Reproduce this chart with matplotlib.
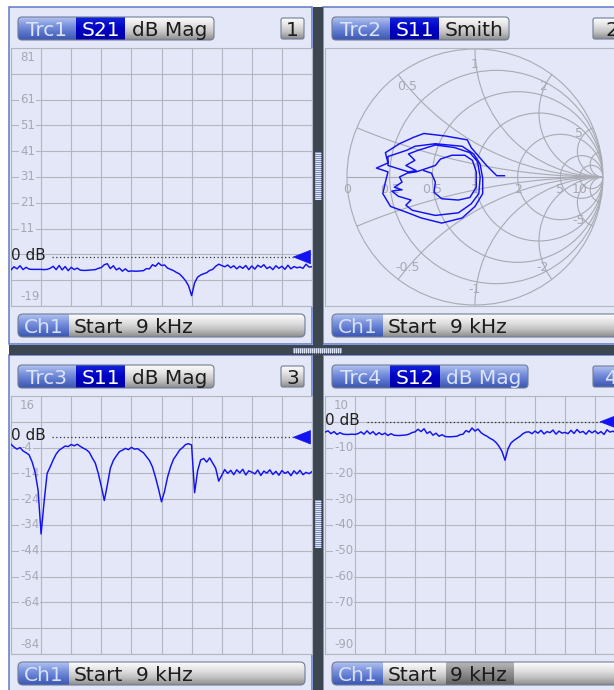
import numpy as np
import matplotlib.pyplot as plt
from matplotlib.colors import to_rgb
from matplotlib.patches import FancyBboxPatch, Rectangle, Circle, Polygon

plt.rcParams['font.family'] = ['DejaVu Sans']

# ---------------- data ----------------
# sweep position in grid divisions (Start 9 kHz ... Stop), 101 points
sweep = np.arange(101) / 10

s21_db = [-5.0, -3.8, -4.6, -3.4, -4.9, -4.0, -4.7, -4.8, -4.8, -4.8,
          -4.8, -4.9, -4.8, -4.4, -3.6, -4.9, -3.3, -5.0, -3.7, -5.3,
          -4.0, -4.9, -4.3, -5.1, -5.2, -5.2, -5.1, -5.0, -4.9, -4.4,
          -4.1, -3.0, -2.6, -4.5, -3.4, -5.0, -4.3, -5.5, -4.6, -5.6,
          -5.4, -5.5, -5.5, -5.4, -5.3, -4.5, -4.6, -3.0, -3.6, -2.3,
          -3.3, -3.1, -4.3, -4.8, -5.3, -6.0, -6.6, -7.8, -9.2, -11.2,
          -15.0, -10.0, -7.8, -7.0, -6.5, -6.1, -5.2, -4.8, -3.6, -2.8,
          -3.3, -3.8, -3.1, -4.2, -3.4, -4.6, -3.6, -4.4, -3.3, -4.9,
          -3.5, -4.7, -3.2, -4.0, -3.0, -4.5, -3.8, -4.9, -3.4, -4.4,
          -3.6, -4.8, -3.2, -4.6, -3.7, -4.2, -3.9, -4.4, -2.8, -3.9, -3.8]

s11_db = [-2.7, -3.8, -4.6, -4.0, -5.3, -6.0, -6.8, -9.5, -13.5, -20.5,
          -37.5, -25.0, -14.0, -11.5, -8.8, -6.5, -5.0, -4.2, -3.4, -3.6,
          -2.8, -3.3, -2.7, -3.5, -4.2, -4.8, -5.8, -8.0, -10.0, -14.0,
          -19.0, -24.5, -18.5, -12.0, -9.0, -7.2, -5.6, -5.0, -4.3, -4.8,
          -3.9, -4.6, -4.4, -5.2, -6.0, -7.5, -9.0, -11.5, -15.5, -20.0,
          -25.0, -21.0, -15.5, -11.5, -8.5, -6.8, -5.0, -4.0, -2.8, -2.5,
          -3.0, -21.5, -13.0, -8.8, -8.2, -9.6, -8.0, -10.0, -12.0, -17.0,
          -14.8, -12.5, -14.0, -12.8, -14.5, -12.6, -13.8, -12.4, -14.6, -13.0,
          -13.5, -14.2, -12.7, -14.8, -13.1, -13.9, -12.6, -14.4, -13.2, -14.7,
          -12.9, -14.0, -13.3, -14.9, -13.0, -14.2, -12.8, -14.5, -13.6, -14.1, -13.3]

s12_db = [-4.0, -3.5, -4.6, -3.8, -4.9, -4.2, -4.8, -4.9, -4.9, -4.8,
          -4.9, -4.6, -3.9, -4.8, -3.5, -4.7, -3.8, -5.1, -4.2, -5.0,
          -4.4, -5.3, -4.6, -5.2, -5.3, -5.3, -5.2, -5.1, -4.8, -4.2,
          -3.9, -2.9, -3.8, -2.7, -4.5, -3.8, -5.2, -4.4, -5.6, -5.0,
          -5.7, -5.8, -5.8, -5.7, -5.6, -5.0, -4.8, -3.4, -4.0, -2.4,
          -3.6, -2.8, -4.2, -5.0, -5.6, -6.4, -7.0, -8.0, -9.5, -11.5,
          -14.9, -10.5, -8.2, -7.2, -6.4, -5.6, -4.6, -4.0, -3.9, -4.6,
          -3.6, -4.4, -3.3, -4.7, -3.8, -4.2, -3.2, -4.8, -3.6, -4.4,
          -4.1, -4.6, -3.3, -4.5, -3.0, -4.2, -3.7, -4.8, -3.4, -4.3,
          -3.5, -4.6, -3.8, -4.9, -3.1, -4.0, -3.6, -4.5, -3.4, -4.1, -3.7]

# S11 reflection coefficient (Smith chart), real / imaginary part
s11_re = [0.23, 0.17, 0.09, 0.03, -0.03, -0.06, -0.23, -0.40, -0.48, -0.59,
          -0.70, -0.68, -0.77, -0.68, -0.70, -0.72, -0.66, -0.55, -0.42, -0.26,
          -0.10, 0.00, 0.06, 0.06, 0.04, -0.01, -0.10, -0.31, -0.47, -0.53,
          -0.68, -0.68, -0.52, -0.46, -0.54, -0.47, -0.52, -0.44, -0.31, -0.16,
          -0.04, 0.02, 0.04, 0.03, -0.03, -0.13, -0.31, -0.49, -0.54, -0.50,
          -0.60, -0.65, -0.57, -0.63, -0.57, -0.59, -0.53, -0.46, -0.40, -0.31,
          -0.27, -0.18, -0.08, -0.02, 0.01, 0.01, -0.04, -0.13, -0.26, -0.32,
          -0.31, -0.34, -0.40]
s11_im = [0.01, 0.01, 0.09, 0.16, 0.23, 0.29, 0.32, 0.34, 0.31, 0.26,
          0.19, 0.11, 0.07, 0.04, -0.04, -0.13, -0.23, -0.27, -0.32, -0.36,
          -0.32, -0.23, -0.13, -0.01, 0.10, 0.18, 0.24, 0.26, 0.24, 0.21,
          0.16, 0.09, 0.04, 0.05, 0.09, 0.13, 0.18, 0.21, 0.25, 0.23,
          0.19, 0.12, 0.00, -0.13, -0.21, -0.28, -0.30, -0.26, -0.22, -0.18,
          -0.15, -0.11, -0.10, -0.08, -0.04, 0.00, 0.03, 0.04, 0.06, 0.09,
          0.14, 0.17, 0.17, 0.13, 0.04, -0.08, -0.16, -0.18, -0.17, -0.12,
          -0.04, 0.03, 0.05]

r_circles = [0.2, 0.5, 1, 2, 5, 10]
x_arcs = [0.2, 0.5, 1, 2, 5, 10]
r_labels = [0, 0.2, 0.5, 1, 2, 5, 10]
x_labels = [0.5, 1, 2, 5]

trc1_labels = [81, 61, 51, 41, 31, 21, 11, -19]
trc3_labels = [16, -4, -14, -24, -34, -44, -54, -64, -84]
trc4_labels = [10, -10, -20, -30, -40, -50, -60, -70, -90]

# ---------------- style ----------------
W, H = 614, 690
PANEL = '#E3E7F7'
BORDER = '#6079C6'
DARK = '#3B4651'
GRID = '#B3B5C0'
SGRID = '#A9AAB2'
LABEL = '#A6A8B4'
BLUE = '#1212F2'
GRAY = ['#FCFCFC', '#E4E4E4', '#C2C2C2', '#8C8C8C']
LBLUE = ['#B2C2F0', '#8098DF', '#5A74CC', '#3C57B0']
NAVY = ['#1424DA', '#0000C4', '#0000A6']
DGRAY = ['#B8B8B8', '#9A9A9A', '#7E7E7E', '#5E5E5E']

fig = plt.figure(figsize=(W / 100, H / 100), dpi=100)
fig.patch.set_facecolor('white')

bg = fig.add_axes([0, 0, 1, 1])
bg.axis('off')


def frac(x0, y0, x1, y1):
    return [x0 / W, 1 - y1 / H, (x1 - x0) / W, (y1 - y0) / H]


def shade(x0, y0, x1, y1, stops, clip=None, z=3):
    cols = np.array([to_rgb(c) for c in stops])
    pos = np.linspace(0, 1, len(cols))
    t = np.linspace(0, 1, 40)
    img = np.stack([np.interp(t, pos, cols[:, k]) for k in range(3)], axis=-1)[:, None, :]
    im = bg.imshow(img, extent=(x0, x1, y1, y0), aspect='auto',
                   interpolation='bilinear', zorder=z)
    if clip is not None:
        im.set_clip_path(clip)
    return im


def pill(x0, y0, x1, y1, r=4, z=3):
    p = FancyBboxPatch((x0, y0), x1 - x0, y1 - y0,
                       boxstyle=f'round,pad=0,rounding_size={r}',
                       fc='none', ec='#707C96', lw=0.8, zorder=z + 1)
    bg.add_patch(p)
    return p


def label(x, y, s, color, size=14.5):
    bg.text(x, y, s, fontsize=size, color=color, ha='center', va='baseline', zorder=6)


def header(x0, y0, y1, segs):
    p = pill(x0, y0, segs[-1][1], y1)
    left = x0
    for s, right, stops, tc in segs:
        shade(left, y0, right, y1, stops, clip=p)
        label((left + right) / 2, (y0 + y1) / 2 + 7.3, s, tc)
        left = right


def numbox(x0, y0, x1, y1, s, stops, tc):
    p = pill(x0, y0, x1, y1, r=2)
    shade(x0, y0, x1, y1, stops, clip=p)
    label((x0 + x1) / 2, (y0 + y1) / 2 + 7.3, s, tc)


def footer(x0, y0, x1, y1, xs, dark_khz=False):
    p = pill(x0, y0, x1, y1, r=5)
    shade(x0, y0, x1, y1, GRAY, clip=p)
    shade(x0, y0, x0 + 51, y1, LBLUE, clip=p)
    label(x0 + 25.5, (y0 + y1) / 2 + 7.5, 'Ch1', '#D6E0FA')
    if dark_khz:
        shade(xs + 58, y0, xs + 126, y1, DGRAY, clip=p)
    bg.text(xs, (y0 + y1) / 2 + 7.5, 'Start', fontsize=14.5, color='#1C1C1C',
            ha='left', va='baseline', zorder=6)
    bg.text(xs + 62, (y0 + y1) / 2 + 7.5, '9 kHz', fontsize=14.5, color='#1C1C1C',
            ha='left', va='baseline', zorder=6)


# panels and separators
for (x0, y0, x1, y1) in [(9, 7, 312, 344), (323, 7, W + 5, 344),
                         (9, 355, 312, H + 5), (323, 355, W + 5, H + 5)]:
    bg.add_patch(Rectangle((x0, y0), x1 - x0, y1 - y0, fc=PANEL, ec=BORDER, lw=1.1, zorder=1))
bg.add_patch(Rectangle((312.5, 7), 10, H, fc=DARK, ec='none', zorder=2))
bg.add_patch(Rectangle((9, 344.5), W, 10, fc=DARK, ec='none', zorder=2))
for (hy0, hy1) in [(152, 200), (500, 548)]:
    bg.add_patch(Rectangle((315, hy0), 5.5, hy1 - hy0, fc='#7F90C4', ec='none', zorder=3))
    bg.hlines(np.arange(hy0 + 1, hy1, 2), 315, 320.5, color='#E2E8F8', lw=0.7, zorder=4)
bg.add_patch(Rectangle((293, 347.5), 49, 5, fc='#7F90C4', ec='none', zorder=3))
bg.vlines(np.arange(294, 342, 2), 347.5, 352.5, color='#E2E8F8', lw=0.7, zorder=4)

# headers
header(18, 17, 40, [('Trc1', 76, LBLUE, '#DCE4FA'), ('S21', 125, NAVY, 'white'),
                    ('dB Mag', 214, GRAY, '#1C1C1C')])
numbox(281, 18, 304, 39, '1', GRAY, '#1C1C1C')
header(332, 17, 40, [('Trc2', 390, LBLUE, '#DCE4FA'), ('S11', 439, NAVY, 'white'),
                     ('Smith', 509, GRAY, '#1C1C1C')])
numbox(593, 18, 630, 39, '2', GRAY, '#1C1C1C')
header(18, 365, 388, [('Trc3', 76, LBLUE, '#DCE4FA'), ('S11', 125, NAVY, 'white'),
                      ('dB Mag', 214, GRAY, '#1C1C1C')])
numbox(281, 366, 304, 387, '3', GRAY, '#1C1C1C')
header(332, 365, 388, [('Trc4', 390, LBLUE, '#DCE4FA'), ('S12', 440, NAVY, 'white'),
                       ('dB Mag', 528, LBLUE, '#DCE4FA')])
numbox(593, 366, 630, 387, '4', LBLUE, '#DCE4FA')

# footers
footer(18, 314, 305, 337, 74)
footer(332, 314, 640, 337, 388)
footer(18, 662, 305, 685, 74)
footer(332, 662, 640, 685, 388, dark_khz=True)

bg.set_xlim(0, W)
bg.set_ylim(H, 0)


def db_panel(box, top, labels, values, dots, tri):
    x0, y0, x1, y1 = box
    ax = fig.add_axes(frac(x0, y0, x1, y1))
    ax.set_facecolor(PANEL)
    ax.set_xlim(0, 10)
    ax.set_ylim(top - 100, top)
    ax.set_xticks(np.arange(11))
    ax.set_yticks(np.arange(top - 100, top + 1, 10))
    ax.grid(True, color=GRID, lw=0.8)
    ax.set_axisbelow(True)
    ax.tick_params(length=0, labelbottom=False, labelleft=False)
    for s in ax.spines.values():
        s.set_color(GRID)
        s.set_linewidth(0.8)
    for v in labels:
        yy = v - 3.7 if v == top else (v + 3.5 if v == top - 100 else v)
        ax.text(0.3, yy, str(v), fontsize=8.5, color=LABEL, ha='left', va='center',
                bbox=dict(fc=PANEL, ec='none', pad=0.5), zorder=3)
    ax.text(0.0, 0.6, '0 dB', fontsize=11, color='#202020', ha='left', va='center',
            zorder=4)
    ax.plot(dots, [0, 0], color='#303030', lw=0.9, ls=(0, (1, 2)), zorder=4)
    ax.add_patch(Polygon([(tri[0], 0), (tri[1], 2.6), (tri[1], -2.6)], closed=True,
                         fc=BLUE, ec=BLUE, lw=0.5, zorder=5, clip_on=False))
    ax.plot(sweep, values, color=BLUE, lw=1.05, zorder=5)
    return ax


db_panel((11, 48, 312, 306), 81, trc1_labels, s21_db, [1.37, 9.38], [9.38, 9.95])
db_panel((11, 396, 312, 654), 16, trc3_labels, s11_db, [1.37, 9.38], [9.38, 9.95])
db_panel((325, 396, 625, 654), 10, trc4_labels, s12_db, [1.4, 9.17], [9.17, 9.75])

# Smith chart
sm = fig.add_axes(frac(325, 48, 625, 306))
sm.set_facecolor(PANEL)
sm.set_xlim(-150 / 128, 150 / 128)
sm.set_ylim(-129 / 128, 129 / 128)
sm.set_xticks([])
sm.set_yticks([])
for s in sm.spines.values():
    s.set_color(GRID)
    s.set_linewidth(0.8)
unit = Circle((0, 0), 1, fill=False, ec=SGRID, lw=0.8)
sm.add_patch(unit)
sm.plot([-1, 1], [0, 0], color=SGRID, lw=0.8)
for r in r_circles:
    c = Circle((r / (1 + r), 0), 1 / (1 + r), fill=False, ec=SGRID, lw=0.8)
    sm.add_patch(c)
    c.set_clip_path(unit)
for x in x_arcs:
    for sg in (1, -1):
        c = Circle((1, sg / x), 1 / x, fill=False, ec=SGRID, lw=0.8)
        sm.add_patch(c)
        c.set_clip_path(unit)
for r in r_labels:
    sm.text((r - 1) / (r + 1), -0.1, f'{r:g}', fontsize=9, color=LABEL,
            ha='center', va='center')
for x in x_labels:
    gx, gy = (x * x - 1) / (x * x + 1), 2 * x / (x * x + 1)
    sm.text(0.88 * gx, 0.88 * gy, f'{x:g}', fontsize=9, color=LABEL, ha='center', va='center')
    sm.text(0.88 * gx, -0.88 * gy, f'-{x:g}', fontsize=9, color=LABEL, ha='center', va='center')
sm.plot(s11_re, s11_im, color=BLUE, lw=1.05, zorder=5)

fig.savefig('out.png', dpi=100, facecolor=fig.get_facecolor())
